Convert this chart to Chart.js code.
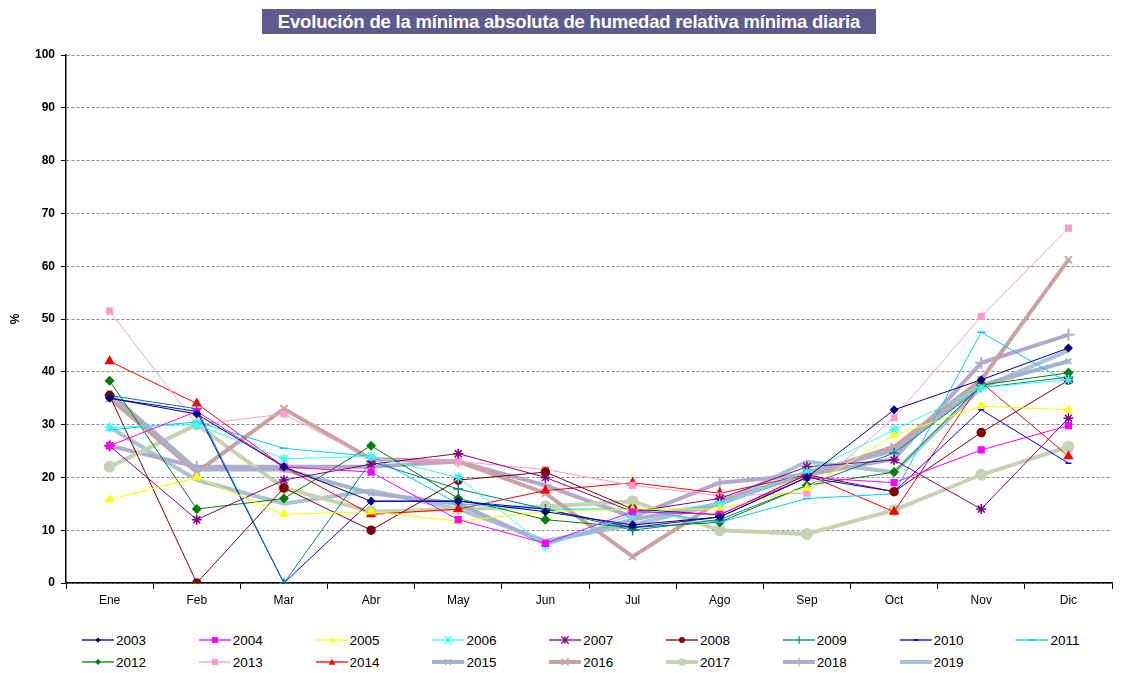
<!DOCTYPE html>
<html>
<head>
<meta charset="utf-8">
<script src="https://cdn.jsdelivr.net/npm/chart.js@4/dist/chart.umd.min.js"></script>
<style>
  html, body { margin: 0; padding: 0; background: #fff; }
  #wrap { position: relative; width: 1125px; height: 673px; font-family: "Liberation Sans", Arial, sans-serif; }
  #title { position: absolute; left: 262px; top: 9px; width: 614px; height: 25px; background: #5e5a8c; color: #fff;
           font-weight: bold; font-size: 18.5px; line-height: 25px; text-align: center; white-space: nowrap; letter-spacing: -0.2px; }
  #chartBox { position: absolute; left: 0; top: 0; width: 1125px; height: 620px; }
  #legend { position: absolute; left: 0; top: 630px; width: 1125px; height: 43px; }
  .item { position: absolute; height: 20px; display: flex; align-items: center; font-size: 13.5px; color: #000; }
  .item svg { margin-right: 2px; }
</style>
</head>
<body>
<div id="wrap">
  <div id="chartBox"><canvas id="c" width="1125" height="620"></canvas></div>
  <div id="title">Evolución de la mínima absoluta de humedad relativa mínima diaria</div>
  <div id="legend"></div>
</div>
<script>
const months = ['Ene','Feb','Mar','Abr','May','Jun','Jul','Ago','Sep','Oct','Nov','Dic'];
const yTicks = [0,10,20,30,40,50,60,70,80,90,100];

const y2003 = [35, 32, 22, 15.5, 15.5, 13.5, 11, 12.5, 20, 32.8, 38.5, 44.5];
const y2004 = [26, 32.5, 22, 21, 12, 7.5, 13.5, 13, 20, 19, 25.2, 29.8];
const y2005 = [15.8, 20, 13, 13.5, 11.7, 13.5, 14, 14, 18, 28, 33.5, 32.8];
const y2006 = [29.5, 30, 23.5, 24, 20, 7, 13, 15, 21, 29, 37, 38.5];
const y2007 = [26, 12, 19.5, 22.5, 24.5, 20, 13.5, 16, 22, 23.3, 14, 31.2];
const y2008 = [35.5, 0, 18, 10, 19.5, 21, 14, 12.9, 20.5, 17.3, 28.5, 38.4];
const y2009 = [35.5, 33, 0, 23, 17.8, 14, 10, 12, 18.5, 24.6, 37, 39];
const y2010 = [35, 32.5, 0, 15.5, 15.5, 14, 10.5, 12.5, 20, 17.3, 32.8, 22.7];
const y2011 = [29, 30.5, 25.5, 24, 15, 14, 14, 11.5, 16, 16.9, 47.5, 37.9];
const y2012 = [38.3, 14, 16, 26, 16, 12, 10.5, 11.5, 18.5, 21, 37.5, 39.8];
const y2013 = [51.5, 30, 32, 23.5, 23, 21.5, 18.5, 16.5, 17, 31.3, 50.5, 67.2];
const y2014 = [42, 34, 22, 13, 14, 17.5, 19, 17, 20.5, 13.5, 38, 24];
const y2015 = [36, 21.5, 21.5, 17, 15, 7.5, 12, 15, 21, 25, 37.5, 42];
const y2016 = [35, 21, 33, 23.5, 23, 17, 5, 15.5, 20.5, 25.8, 38.5, 61.2];
const y2017 = [22, 30, 18, 13.5, 14, 14.5, 15.5, 10, 9.3, 13.8, 20.5, 25.8];
const y2018 = [26, 22, 22, 22, 23, 18.5, 12.5, 19, 20.5, 23.5, 41.7, 47];
const y2019 = [29.5, 19.5, 15, 17.5, 14, 8, 11, 15, 23, 21, 37, 44];

const series = [
  {label:'2003', data:y2003, color:'#000080', ps:'rectRot', r:3.5, w:1},
  {label:'2004', data:y2004, color:'#ff00ff', ps:'rect', r:4, w:1},
  {label:'2005', data:y2005, color:'#ffff00', ps:'triangle', r:4, w:1},
  {label:'2006', data:y2006, color:'#33ffff', ps:'star', r:5, w:1},
  {label:'2007', data:y2007, color:'#800080', ps:'star', r:5, w:1},
  {label:'2008', data:y2008, color:'#800000', ps:'circle', r:4, w:1},
  {label:'2009', data:y2009, color:'#008080', ps:'cross', r:5, w:1},
  {label:'2010', data:y2010, color:'#0000ff', ps:'line', r:3, w:1},
  {label:'2011', data:y2011, color:'#00ccff', ps:'line', r:4, w:1},
  {label:'2012', data:y2012, color:'#008000', ps:'rectRot', r:4, w:1},
  {label:'2013', data:y2013, color:'#ff99cc', ps:'rect', r:4, w:1},
  {label:'2014', data:y2014, color:'#ff0000', ps:'triangle', r:4.5, w:1},
  {label:'2015', data:y2015, color:'#a4b2cf', ps:'crossRot', r:4, w:4},
  {label:'2016', data:y2016, color:'#c9a2a2', ps:'crossRot', r:5, w:4},
  {label:'2017', data:y2017, color:'#c4d4b2', ps:'circle', r:5, w:4},
  {label:'2018', data:y2018, color:'#b2a9cc', ps:'cross', r:6, w:4},
  {label:'2019', data:y2019, color:'#a9c5d5', ps:'circle', r:0, w:4}
];

const datasets = series.map(s => ({
  label: s.label, data: s.data,
  borderColor: s.color, backgroundColor: s.color,
  borderWidth: s.w, pointStyle: s.ps, pointRadius: s.r,
  pointBorderColor: s.color, pointBackgroundColor: s.color,
  pointBorderWidth: s.w > 1 ? 2 : 1.5, tension: 0, fill: false
}));

new Chart(document.getElementById('c'), {
  type: 'line',
  data: { labels: months, datasets: datasets },
  options: {
    responsive: false, animation: false,
    layout: { padding: { left: 6, right: 13, top: 55, bottom: 0 } },
    plugins: { legend: { display: false }, title: { display: false }, tooltip: { enabled: false } },
    scales: {
      x: {
        offset: true,
        grid: { offset: true, drawOnChartArea: false, drawTicks: true, tickLength: 6, tickColor: '#000', color: '#000' },
        border: { display: true, color: '#000', width: 1.5 },
        ticks: { color: '#000', font: { family: 'Liberation Sans', size: 12 }, padding: 4, maxRotation: 0 },
        afterFit: (s) => { s.height = 37; }
      },
      y: {
        min: 0, max: 100,
        afterBuildTicks: (s) => { s.ticks = yTicks.map(v => ({ value: v })); },
        grid: { color: '#8a8a8a', lineWidth: 1, tickColor: '#000', tickLength: 5, tickBorderDash: [] },
        border: { display: true, color: '#000', width: 1.5, dash: [3, 2] },
        ticks: { color: '#000', font: { family: 'Liberation Sans', size: 12, weight: 'bold' }, padding: 6 },
        title: { display: true, text: '%', color: '#000', font: { family: 'Liberation Sans', size: 12, weight: 'bold' }, padding: 2 },
        afterFit: (s) => { s.width = 60; }
      }
    }
  }
});

// HTML legend
const legend = document.getElementById('legend');
function markerSVG(s) {
  const c = s.color, cx = 16, cy = 10;
  let m = '';
  const r = Math.max(s.r, 0) * 0.75;
  switch (s.ps) {
    case 'rectRot': m = `<polygon points="${cx},${cy-r} ${cx+r},${cy} ${cx},${cy+r} ${cx-r},${cy}" fill="${c}"/>`; break;
    case 'rect': m = `<rect x="${cx-r}" y="${cy-r}" width="${2*r}" height="${2*r}" fill="${c}"/>`; break;
    case 'triangle': m = `<polygon points="${cx},${cy-r} ${cx+r},${cy+r*0.8} ${cx-r},${cy+r*0.8}" fill="${c}"/>`; break;
    case 'circle': m = r > 0 ? `<circle cx="${cx}" cy="${cy}" r="${r}" fill="${c}"/>` : ''; break;
    case 'star': m = `<path d="M${cx-r},${cy-r}L${cx+r},${cy+r}M${cx-r},${cy+r}L${cx+r},${cy-r}M${cx},${cy-r}L${cx},${cy+r}" stroke="${c}" stroke-width="1.2"/>`; break;
    case 'cross': m = `<path d="M${cx},${cy-r}L${cx},${cy+r}" stroke="${c}" stroke-width="1.2"/>`; break;
    case 'crossRot': m = `<path d="M${cx-r},${cy-r}L${cx+r},${cy+r}M${cx-r},${cy+r}L${cx+r},${cy-r}" stroke="${c}" stroke-width="1.2"/>`; break;
    case 'line': m = `<path d="M${cx-r},${cy}L${cx+r},${cy}" stroke="${c}" stroke-width="2"/>`; break;
  }
  return `<svg width="32" height="20" viewBox="0 0 32 20"><line x1="0" y1="10" x2="32" y2="10" stroke="${c}" stroke-width="${s.w > 1 ? 4 : 1.3}"/>${m}</svg>`;
}
series.forEach((s, i) => {
  const col = i % 9, row = Math.floor(i / 9);
  const d = document.createElement('div');
  d.className = 'item';
  d.style.left = (82 + col * 116.8) + 'px';
  d.style.top = (row * 22) + 'px';
  d.innerHTML = markerSVG(s) + '<span>' + s.label + '</span>';
  legend.appendChild(d);
});
</script>
</body>
</html>
